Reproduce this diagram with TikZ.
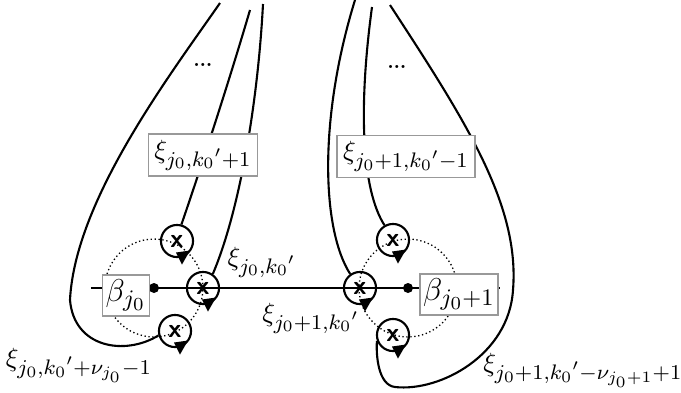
\documentclass[tikz,border=0pt]{standalone}
\usetikzlibrary{calc}
\DeclareMathSizes{10}{10}{8}{6}
\DeclareMathSizes{12}{12}{9}{7}
\begin{document}
\begin{tikzpicture}[x=0.38pt,y=-0.38pt,
  lab/.style={font=\normalsize},
  curve/.style={line width=0.8pt},
  bx/.style={lab, draw=black!40, fill=white, line width=0.5pt, inner xsep=2.3pt, inner ysep=2.2pt},
  bbx/.style={bx, font=\large, inner xsep=1.2pt, inner ysep=1.8pt},
  xc/.style={circle, draw, line width=0.8pt, minimum size=12.2pt, inner sep=0pt, font=\normalsize\sffamily\bfseries},
  dotc/.style={densely dotted, line width=0.5pt},
  blob/.style={circle, fill, inner sep=0pt, minimum size=3.8pt},
  tip/.style={fill=black}]
\useasboundingbox (0,0) rectangle (681,392);
% free ends
\coordinate (tA) at (220,3);
\coordinate (tB) at (250,10);
\coordinate (tC) at (263,4);
\coordinate (tD) at (355,0);
\coordinate (tE) at (372,7);
\coordinate (tF) at (390,5);
\coordinate (le) at (91,288);
\coordinate (re) at (500,288);
% centres
\node[blob] (dl) at (154,288) {};
\node[blob] (dr) at (408,288) {};
\draw[dotc] (dl) circle[radius=18.6pt];
\draw[dotc] (dr) circle[radius=18.6pt];
\draw[line width=0.5pt] (le) -- (re);
% crossing circles
\node[xc] (xl) at (203,288) {x};
\node[xc] (ul) at (177,241) {x};
\node[xc] (ll) at (175,331) {x};
\node[xc] (xr) at (360,288) {x};
\node[xc] (ur) at (393,240) {x};
\node[xc] (lr) at (393,335) {x};
\foreach \c in {xl,ul,ll,xr,ur,lr}{
  \fill[tip, shift={(\c)}] (-1,11.5) -- (13,9.5) -- (5,23.5) -- cycle;
}
% curves
\draw[curve] (tA) .. controls (170,75) and (75,200) .. (70,300)
  .. controls (74,348) and (125,356) .. (ll.195);
\draw[curve] (tB) .. controls (225,95) and (195,185) .. (ul.75);
\draw[curve] (tC) .. controls (258,100) and (240,210) .. (xl.55);
\draw[curve] (tD) .. controls (318,120) and (322,230) .. (xr.125);
\draw[curve] (tE) .. controls (358,110) and (362,190) .. (ur.120);
\draw[curve] (tF) .. controls (465,120) and (520,205) .. (513,290)
  .. controls (509,355) and (440,392) .. (395,387)
  .. controls (378,385) and (376,355) .. (lr.200);
% boxes
\node[bbx] (bl) at (126,295.5) {$\beta_{j_0}$};
\node[bbx] (br) at (459,294.5) {$\beta_{j_0+1}$};
\node[bx] (b1) at (203,155) {$\xi_{j_0,{k_0}'+1}$};
\node[bx] (b2) at (406,156.5) {$\xi_{j_0+1,{k_0}'-1}$};
% labels
\node[lab] (l1) at (262,262) {$\xi_{j_0,{k_0}'}$};
\node[lab] (l2) at (311,318) {$\xi_{j_0+1,{k_0}'}$};
\node[lab] (l3) at (79,365) {$\xi_{j_0,{k_0}'+\nu_{j_0}-1}$};
\node[lab] (l4) at (583,370) {$\xi_{j_0+1,{k_0}'-\nu_{j_0+1}+1}$};
\node[font=\large] (d1) at (203,65) {.\kern-0.9pt.\kern-0.9pt.};
\node[font=\large] (d2) at (397,67) {.\kern-0.9pt.\kern-0.9pt.};
\end{tikzpicture}
\end{document}
